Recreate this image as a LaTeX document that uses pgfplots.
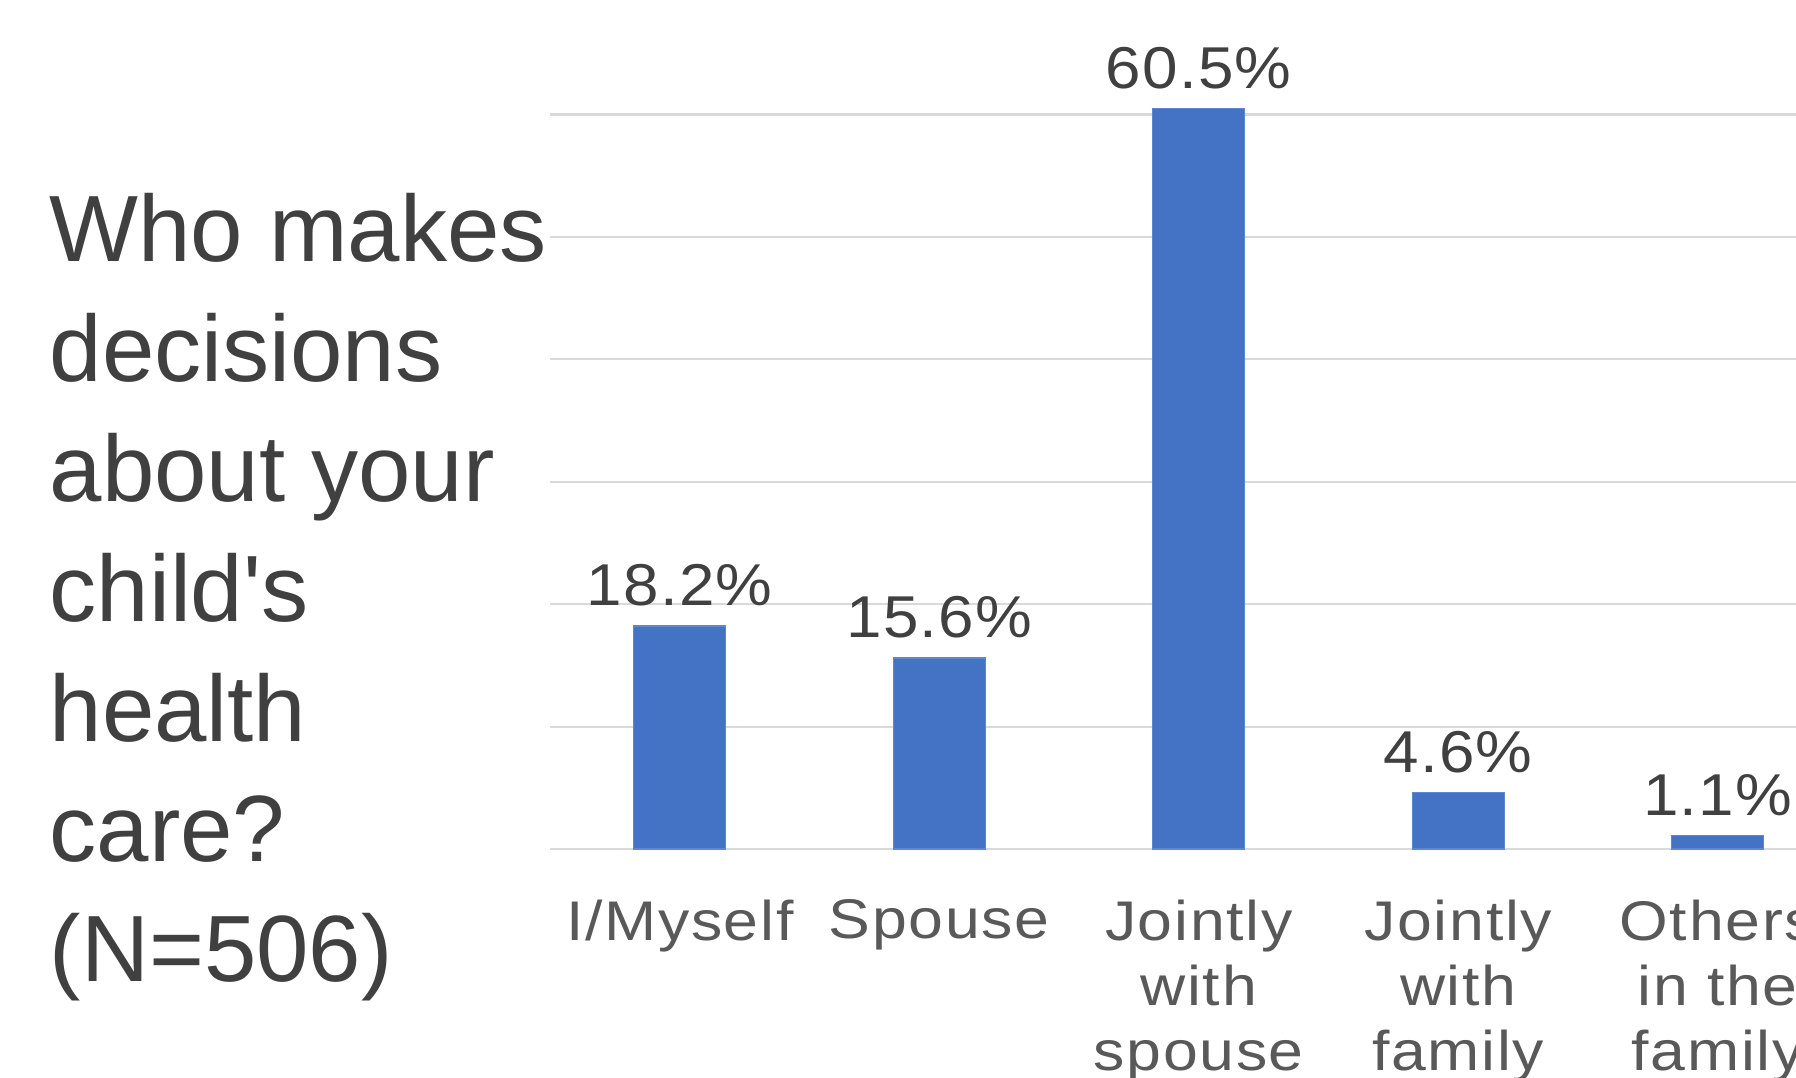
\documentclass[border=0pt]{standalone}
\usepackage{fontspec}
\setmainfont{Liberation Sans}
\newfontfamily\tickfont[FakeStretch=1.12, LetterSpace=3]{Liberation Sans}
\newfontfamily\labelfont[FakeStretch=1.08, LetterSpace=2]{Liberation Sans}
\usepackage{pgfplots}
\pgfplotsset{compat=1.18}
\definecolor{barblue}{HTML}{4472C4}
\definecolor{titlegray}{HTML}{404040}
\definecolor{labelgray}{HTML}{404040}
\definecolor{tickgray}{HTML}{595959}
\definecolor{gridgray}{HTML}{D9D9D9}
\begin{document}
\begin{tikzpicture}[x=1cm,y=1cm]
\useasboundingbox (0,0) rectangle (17.96,10.78);
\clip (0,0) rectangle (17.96,10.78);
\node[anchor=north west, inner sep=0pt, align=left, text=titlegray,
      font=\fontsize{26.8}{34.1}\selectfont] at (0.49,8.85)
  {Who makes\\decisions\\about your\\child\textquotesingle s\\health\\care?\\(N=506)};
\begin{axis}[
  at={(5.50cm,2.29cm)}, anchor=south west,
  scale only axis, width=12.975cm, height=7.345cm,
  ybar, bar width=0.92cm, clip=false,
  ymin=0, ymax=60, xmin=-0.5, xmax=4.5,
  ytick={0,10,...,60}, yticklabels={},
  ymajorgrids, grid style={color=gridgray, line width=0.57pt},
  axis line style={draw=none}, tick style={draw=none},
  xtick={0,1,2,3,4},
  xticklabels={I/Myself, Spouse, {Jointly\\with\\spouse}, {Jointly\\with\\family}, {Others\\in the\\family}},
  xticklabel style={anchor=north, inner sep=0pt, yshift=-0.35cm, align=center,
    font=\tickfont\fontsize{15.9}{18.6}\selectfont, text=tickgray},
  nodes near coords, point meta=explicit symbolic,
  every node near coord/.append style={anchor=south, inner sep=0pt, yshift=0.19cm,
    font=\labelfont\fontsize{16.8}{19}\selectfont, text=labelgray},
]
\addplot[fill=barblue, draw=barblue!85!white, line width=0.4pt] coordinates {
  (0,18.2) [18.2\%]
  (1,15.6) [15.6\%]
  (2,60.5) [60.5\%]
  (3,4.6)  [4.6\%]
  (4,1.1)  [1.1\%]
};
\end{axis}
\end{tikzpicture}
\end{document}
